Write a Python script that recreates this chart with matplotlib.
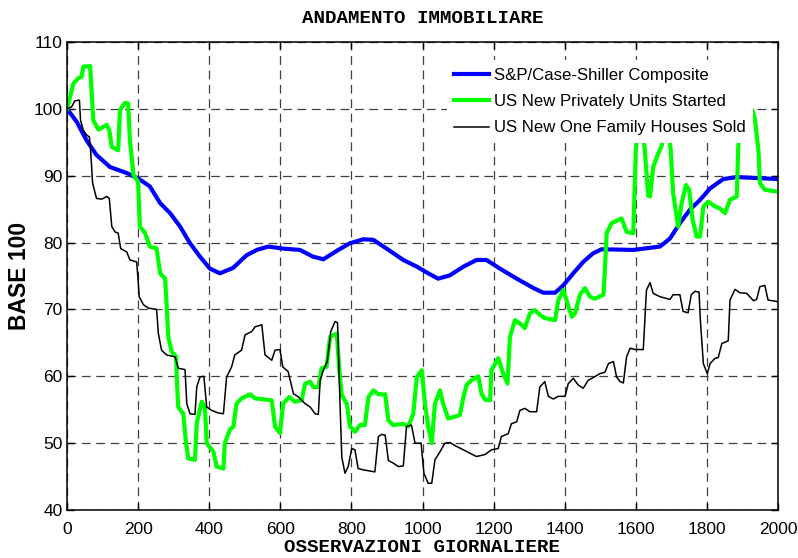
import matplotlib
matplotlib.use("Agg")
import matplotlib.pyplot as plt

# S&P/Case-Shiller Composite (base 100)
cs_x = [0, 27, 55, 83, 121, 168, 200, 233, 262, 290, 318, 346, 374, 402, 430, 467, 505, 534,
        566, 608, 655, 692, 721, 763, 796, 834, 862, 899, 946, 984, 1016, 1044, 1077, 1115,
        1152, 1180, 1218, 1265, 1312, 1340, 1373, 1396, 1424, 1452, 1480, 1504, 1593, 1668,
        1696, 1724, 1752, 1781, 1809, 1846, 1884, 2000]
cs_y = [100.0, 98.1, 95.3, 93.1, 91.3, 90.4, 89.6, 88.4, 85.9, 84.4, 82.4, 79.9, 77.9, 76.1,
        75.4, 76.2, 78.1, 78.9, 79.4, 79.1, 78.9, 77.9, 77.5, 78.9, 79.9, 80.5, 80.4, 79.1,
        77.4, 76.4, 75.4, 74.6, 75.1, 76.4, 77.4, 77.4, 76.1, 74.6, 73.2, 72.5, 72.5, 73.6,
        75.4, 77.1, 78.4, 79.0, 78.9, 79.4, 80.6, 82.9, 84.9, 86.4, 88.1, 89.5, 89.8, 89.5]

# US New Privately Units Started (base 100)
hs_x = [0, 18, 32, 41, 46, 65, 69, 74, 88, 112, 119, 126, 144, 149, 163, 172, 177, 187, 200,
        205, 219, 233, 252, 262, 276, 280, 285, 294, 307, 309, 313, 327, 335, 341, 360, 365,
        379, 388, 393, 412, 421, 440, 444, 458, 468, 477, 491, 515, 529, 576, 585, 599, 608,
        625, 641, 660, 670, 684, 693, 707, 716, 730, 740, 759, 766, 773, 787, 796, 810, 824,
        838, 848, 862, 876, 895, 904, 918, 946, 960, 974, 984, 998, 1007, 1016, 1026, 1035,
        1049, 1058, 1072, 1087, 1105, 1115, 1124, 1138, 1157, 1166, 1176, 1190, 1194, 1213,
        1227, 1239, 1246, 1260, 1274, 1288, 1302, 1316, 1330, 1344, 1373, 1382, 1396, 1405,
        1420, 1429, 1443, 1457, 1471, 1485, 1509, 1513, 1518, 1532, 1560, 1574, 1593, 1600,
        1607, 1618, 1625, 1635, 1640, 1649, 1663, 1673, 1680, 1692, 1698, 1705, 1719, 1729,
        1741, 1750, 1760, 1771, 1781, 1790, 1804, 1823, 1837, 1851, 1865, 1884, 1888, 1895,
        1928, 1935, 1945, 1949, 1963, 2000]
hs_y = [100.0, 103.8, 104.6, 104.8, 106.3, 106.4, 102.8, 98.3, 96.9, 97.6, 96.8, 94.3, 93.8,
        99.8, 100.9, 100.8, 95.3, 90.1, 89.1, 82.4, 81.5, 79.4, 79.1, 75.4, 74.6, 70.9, 65.9,
        63.7, 62.9, 59.4, 55.4, 54.4, 50.0, 47.7, 47.5, 53.0, 56.2, 55.4, 50.0, 48.7, 46.5,
        46.2, 50.0, 52.0, 52.5, 55.9, 56.7, 57.3, 56.7, 56.4, 52.5, 51.5, 55.9, 56.9, 56.2,
        56.4, 58.9, 59.2, 58.4, 58.4, 61.2, 61.4, 65.9, 66.4, 60.9, 57.2, 55.9, 52.5, 51.7,
        52.7, 52.7, 56.9, 57.9, 57.3, 57.3, 53.4, 52.7, 52.9, 52.5, 54.4, 59.9, 60.9, 55.9,
        52.5, 50.0, 55.9, 57.9, 55.9, 53.7, 53.9, 54.2, 56.9, 58.7, 59.4, 60.0, 57.4, 56.5,
        56.4, 60.9, 62.7, 60.4, 58.9, 65.9, 68.4, 67.9, 67.2, 69.4, 69.9, 69.2, 68.7, 68.4,
        71.4, 72.9, 71.4, 68.9, 69.4, 72.2, 73.2, 71.9, 71.6, 72.2, 75.9, 81.4, 82.9, 83.6,
        81.6, 81.4, 93.8, 97.5, 97.5, 94.0, 87.0, 86.9, 91.3, 93.3, 94.5, 96.5, 96.5, 94.0,
        87.4, 82.4, 85.9, 88.6, 87.9, 83.4, 80.9, 80.9, 85.4, 86.1, 85.4, 85.1, 84.4, 86.4,
        86.9, 94.0, 99.5, 99.8, 98.5, 93.8, 88.9, 87.9, 87.6]

# US New One Family Houses Sold (base 100)
ns_x = [0, 13, 22, 35, 38, 46, 55, 63, 67, 72, 83, 98, 112, 119, 126, 135, 144, 151, 168,
        177, 196, 200, 203, 215, 229, 252, 257, 266, 280, 304, 313, 332, 337, 346, 360, 365,
        374, 385, 393, 407, 426, 440, 449, 463, 472, 491, 501, 520, 529, 548, 557, 576, 585,
        599, 607, 622, 637, 651, 670, 684, 698, 707, 712, 721, 732, 742, 754, 761, 768, 773,
        782, 791, 801, 810, 819, 834, 866, 876, 885, 895, 904, 918, 932, 946, 955, 969, 979,
        996, 1004, 1016, 1026, 1035, 1049, 1063, 1077, 1096, 1115, 1133, 1152, 1176, 1194,
        1213, 1222, 1241, 1250, 1265, 1274, 1288, 1302, 1321, 1330, 1344, 1354, 1368, 1382,
        1401, 1410, 1424, 1438, 1452, 1466, 1480, 1499, 1513, 1523, 1537, 1546, 1556, 1565,
        1574, 1584, 1598, 1621, 1630, 1640, 1649, 1668, 1696, 1705, 1724, 1733, 1747, 1756,
        1766, 1778, 1781, 1790, 1801, 1809, 1823, 1832, 1842, 1860, 1865, 1879, 1893, 1912,
        1931, 1940, 1949, 1963, 1972, 1996, 2000]
ns_y = [100.0, 100.3, 101.2, 101.3, 98.3, 96.8, 96.1, 95.8, 93.3, 88.9, 86.6, 86.5, 86.9,
        86.6, 82.4, 81.6, 81.4, 79.1, 78.6, 77.4, 77.1, 74.4, 71.9, 70.7, 70.2, 70.0, 66.4,
        63.9, 63.2, 62.9, 61.2, 61.0, 55.9, 54.4, 54.3, 58.4, 59.9, 60.0, 55.4, 54.9, 54.5,
        54.4, 59.9, 61.4, 63.2, 63.9, 66.2, 66.7, 67.4, 67.7, 63.2, 62.4, 63.9, 64.0, 61.4,
        60.7, 57.4, 56.9, 55.9, 55.4, 54.4, 54.3, 59.4, 60.9, 62.2, 66.7, 68.2, 68.0, 55.9,
        47.9, 45.5, 46.5, 49.2, 49.0, 46.2, 46.0, 45.7, 51.0, 51.3, 51.2, 47.4, 47.0, 46.5,
        46.6, 52.5, 52.7, 50.0, 50.0, 45.5, 44.0, 44.0, 47.5, 48.7, 50.0, 50.1, 49.5, 49.0,
        48.5, 48.0, 48.3, 49.0, 49.2, 51.0, 51.4, 52.9, 53.2, 54.9, 55.2, 54.7, 54.7, 58.4,
        59.2, 57.0, 56.6, 57.0, 57.0, 58.9, 59.7, 58.7, 58.2, 59.4, 59.8, 60.4, 60.6, 61.9,
        62.2, 59.9, 59.2, 59.0, 62.9, 64.2, 64.0, 64.0, 72.9, 74.0, 72.4, 71.9, 71.5, 72.2,
        72.2, 69.7, 69.5, 72.2, 72.7, 72.6, 68.9, 61.9, 60.4, 61.9, 62.7, 62.8, 64.9, 65.3,
        71.4, 73.0, 72.5, 72.4, 71.3, 71.5, 73.4, 73.6, 71.4, 71.2, 71.1]

labels = ["S&P/Case-Shiller Composite",
          "US New Privately Units Started",
          "US New One Family Houses Sold"]
x_ticks = list(range(0, 2001, 200))
y_ticks = list(range(40, 111, 10))

sans = ["Liberation Sans", "DejaVu Sans"]
mono = ["Liberation Mono", "DejaVu Sans Mono"]

fig = plt.figure(figsize=(7.98, 5.58), dpi=100)
ax = fig.add_axes([67 / 798, 48 / 558, 711 / 798, 468 / 558])

ax.plot(cs_x, cs_y, color="#0000ff", lw=3.0, solid_joinstyle="round", label=labels[0])
ax.plot(hs_x, hs_y, color="#00ff00", lw=3.0, solid_joinstyle="round", label=labels[1])
ax.plot(ns_x, ns_y, color="black", lw=1.1, solid_joinstyle="round", label=labels[2])

ax.set_xlim(0, 2000)
ax.set_ylim(40, 110)
ax.set_xticks(x_ticks)
ax.set_yticks(y_ticks)
ax.tick_params(direction="in", length=5, width=1.0, top=True, right=True, labelsize=12.5)
ax.tick_params(axis="x", pad=9)
ax.tick_params(axis="y", pad=3)
for lab in ax.get_xticklabels() + ax.get_yticklabels():
    lab.set_family(sans)
for sp in ax.spines.values():
    sp.set_linewidth(1.1)
    sp.set_color("black")

ax.grid(True, color="#404040", lw=0.9, linestyle=(0, (7, 4.5)))
ax.set_axisbelow(True)

ax.set_title("ANDAMENTO IMMOBILIARE", family=mono, fontweight="bold",
             fontsize=13.8, pad=14)
ax.set_xlabel("OSSERVAZIONI GIORNALIERE", family=mono, fontweight="bold",
              fontsize=13.8, labelpad=1)
ax.set_ylabel("BASE 100", family=sans, fontweight="bold", fontsize=16.5)
ax.yaxis.set_label_coords((31 - 67) / 711, 0.5)

leg = ax.legend(loc="upper right", bbox_to_anchor=((753 - 67) / 711, (516 - 66) / 468),
                borderaxespad=0, frameon=True, fancybox=False, framealpha=1,
                edgecolor="white", facecolor="white", prop={"family": sans, "size": 12.1},
                handlelength=2.05, handletextpad=0.3, labelspacing=0.68, borderpad=0.45)
leg.get_frame().set_linewidth(0)

fig.savefig("out.png", dpi=100)
